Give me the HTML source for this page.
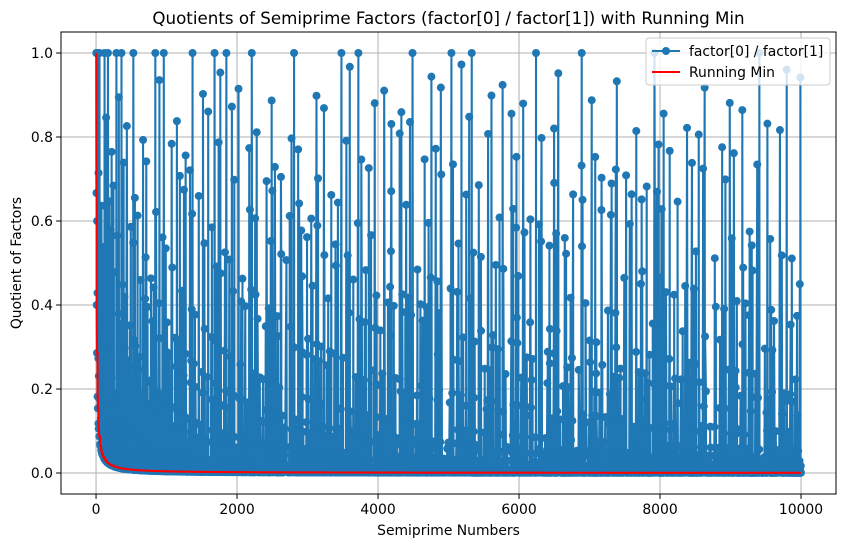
<!DOCTYPE html>
<html><head><meta charset="utf-8"><style>
body{margin:0;background:#fff;font-family:"Liberation Sans","DejaVu Sans",sans-serif;}
svg text{font-family:"DejaVu Sans","Liberation Sans",sans-serif;fill:#000}
</style></head><body>
<svg id="chart" width="846" height="547" viewBox="0 0 846 547" xmlns="http://www.w3.org/2000/svg"></svg>
<script>
// ---- data: semiprimes up to 10000 and their factor quotients ----
const limit = 10000;
const semiprimes = [];
const quotients = [];
(function(){
  for (let n = 4; n <= limit; n++) {
    let m = n, f = [];
    for (let d = 2; d * d <= m && f.length < 3; d++) { while (m % d === 0) { f.push(d); m /= d; } }
    if (m > 1) f.push(m);
    if (f.length === 2) { semiprimes.push(n); quotients.push(f[0] / f[1]); }
  }
})();
const runningMin = [];
(function(){ let mn = Infinity; for (const q of quotients) { mn = Math.min(mn, q); runningMin.push(mn); } })();
const xTicks = [0, 2000, 4000, 6000, 8000, 10000];
const yTicks = [0.0, 0.2, 0.4, 0.6, 0.8, 1.0];

const L = 61, R = 836, T = 32, B = 494;
const xMin = -497, xMax = 10496, yMin = -0.05, yMax = 1.05;
const sx = v => L + (v - xMin) / (xMax - xMin) * (R - L);
const sy = v => B - (v - yMin) / (yMax - yMin) * (B - T);
const NS = "http://www.w3.org/2000/svg";
const svg = document.getElementById('chart');
function el(tag, attrs, parent) {
  const e = document.createElementNS(NS, tag);
  for (const k in attrs) e.setAttribute(k, attrs[k]);
  (parent || svg).appendChild(e); return e;
}
const grid = el('g', {});


xTicks.forEach(t => el('line', {x1: sx(t), x2: sx(t), y1: T, y2: B, stroke: '#b0b0b0', 'stroke-width': 1}, grid));
yTicks.forEach(t => el('line', {x1: L, x2: R, y1: sy(t), y2: sy(t), stroke: '#b0b0b0', 'stroke-width': 1}, grid));
const series = el('g', {});


let d = '';
semiprimes.forEach((n, i) => { d += (i ? 'L' : 'M') + sx(n).toFixed(2) + ' ' + sy(quotients[i]).toFixed(2); });
el('path', {d: d, fill: 'none', stroke: '#1f77b4', 'stroke-width': 2.1, 'stroke-linejoin': 'round'}, series);
semiprimes.forEach((n, i) => {
  const c = el('circle', {cx: sx(n).toFixed(2), cy: sy(quotients[i]).toFixed(2), r: 4, fill: '#1f77b4'}, series);
  
  
});
let d2 = '';
semiprimes.forEach((n, i) => { d2 += (i ? 'L' : 'M') + sx(n).toFixed(2) + ' ' + sy(runningMin[i]).toFixed(2); });
const rm = el('path', {d: d2, fill: 'none', stroke: '#ff0000', 'stroke-width': 2.1});


const fr = el('rect', {x: L, y: T, width: R - L, height: B - T, fill: 'none', stroke: '#000', 'stroke-width': 1});


xTicks.forEach(t => {
  el('line', {x1: sx(t), x2: sx(t), y1: B, y2: B + 4.9, stroke: '#000', 'stroke-width': 1});
  const tx = el('text', {x: sx(t), y: B + 20, 'font-size': 13.9, 'text-anchor': 'middle'});
  tx.textContent = t;
  
  
});
yTicks.forEach(t => {
  el('line', {x1: L - 4.9, x2: L, y1: sy(t), y2: sy(t), stroke: '#000', 'stroke-width': 1});
  const tx = el('text', {x: L - 8, y: sy(t) + 5, 'font-size': 13.9, 'text-anchor': 'end'});
  tx.textContent = t.toFixed(1);
  
  
});
const xt = el('text', {x: (L + R) / 2, y: 535, 'font-size': 13.9, 'text-anchor': 'middle'});
xt.textContent = 'Semiprime Numbers';


const yt = el('text', {x: 21, y: (T + B) / 2, 'font-size': 13.9, 'text-anchor': 'middle', transform: 'rotate(-90 21 ' + (T + B) / 2 + ')'});
yt.textContent = 'Quotient of Factors';


const tt = el('text', {x: (L + R) / 2, y: 24, 'font-size': 16.7, 'text-anchor': 'middle'});
tt.textContent = 'Quotients of Semiprime Factors (factor[0] / factor[1]) with Running Min';


const lg = el('g', {});


el('rect', {x: 646, y: 38, width: 184, height: 47, rx: 3, fill: '#fff', 'fill-opacity': 0.8, stroke: '#ccc', 'stroke-width': 1}, lg);
el('line', {x1: 652, x2: 680, y1: 51, y2: 51, stroke: '#1f77b4', 'stroke-width': 2.1}, lg);
el('circle', {cx: 666, cy: 51, r: 4, fill: '#1f77b4'}, lg);
const l1 = el('text', {x: 689, y: 56, 'font-size': 13.9}, lg);
l1.textContent = 'factor[0] / factor[1]';


el('line', {x1: 652, x2: 680, y1: 72, y2: 72, stroke: '#ff0000', 'stroke-width': 2.1}, lg);
const l2 = el('text', {x: 689, y: 77, 'font-size': 13.9}, lg);
l2.textContent = 'Running Min';


</script>
</body></html>
